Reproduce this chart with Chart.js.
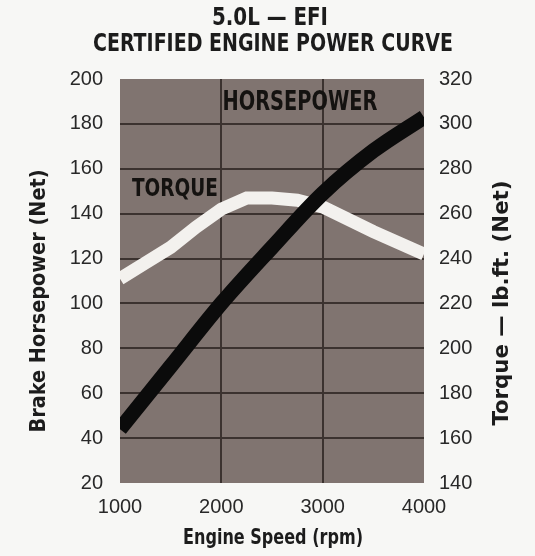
<!DOCTYPE html>
<html>
<head>
<meta charset="utf-8">
<script src="https://cdn.jsdelivr.net/npm/chart.js@4.4.1/dist/chart.umd.min.js"></script>
<style>
  html, body { margin: 0; padding: 0; background: #f7f7f5; }
  #wrap { width: 535px; height: 556px; }
</style>
</head>
<body>
<div id="wrap"><canvas id="powerChart" width="535" height="556"></canvas></div>
<script>
// engine speed (rpm) and readings taken off the printed curve
const hpRpm = [1000, 1500, 2000, 2500, 3000, 3500, 4000];
const hpNet = [44, 72, 100, 125, 149, 168, 183];

const tqRpm = [1000, 1250, 1500, 1750, 2000, 2250, 2500, 2750, 3000, 3500, 4000];
const tqNet = [231, 238, 245, 254, 262, 267, 267, 266, 263, 252, 242];

// tick labels
const rpmTicks = [1000, 2000, 3000, 4000];
const hpTicks = [20, 40, 60, 80, 100, 120, 140, 160, 180, 200];
const tqTicks = [140, 160, 180, 200, 220, 240, 260, 280, 300, 320];

const narrow = "'Liberation Sans Narrow', 'DejaVu Sans Condensed', 'Liberation Sans', sans-serif";
const tickFont = { family: "'Liberation Sans', Arial, sans-serif", size: 20 };
const tickColor = '#282828';
const gridColor = '#3b322f';
const plotBg = '#807470';

// draw text squeezed/stretched to a given width
function fitText(ctx, text, cx, cy, width, font, rot) {
    ctx.save();
    ctx.font = font;
    const w = ctx.measureText(text).width;
    ctx.translate(cx, cy);
    if (rot) ctx.rotate(rot);
    ctx.scale(width / w, 1);
    ctx.textAlign = 'center';
    ctx.textBaseline = 'middle';
    ctx.fillText(text, 0, 0);
    ctx.restore();
}

const paperPlugin = {
    id: 'paper',
    beforeDraw(chart) {
        const { ctx, chartArea: a } = chart;
        ctx.save();
        ctx.fillStyle = '#f7f7f5';
        ctx.fillRect(0, 0, chart.width, chart.height);
        ctx.fillStyle = plotBg;
        ctx.fillRect(a.left, a.top, a.right - a.left, a.bottom - a.top);
        ctx.restore();
    },
    afterDraw(chart) {
        const ctx = chart.ctx;
        ctx.fillStyle = '#1c1c1c';
        const bold = (s) => 'bold ' + s + 'px ' + narrow;
        fitText(ctx, '5.0L — EFI', 270, 19, 116, bold(24));
        fitText(ctx, 'CERTIFIED ENGINE POWER CURVE', 273, 44, 360, bold(25));
        ctx.fillStyle = '#141210';
        fitText(ctx, 'HORSEPOWER', 300, 103, 155, bold(26));
        fitText(ctx, 'TORQUE', 175, 189, 86, bold(25));
        ctx.fillStyle = '#1c1c1c';
        fitText(ctx, 'Engine Speed (rpm)', 273, 539, 180, bold(21));
        fitText(ctx, 'Brake Horsepower (Net)', 40, 301, 263, bold(21), -Math.PI / 2);
        fitText(ctx, 'Torque — lb.ft. (Net)', 503, 303, 245, bold(21), -Math.PI / 2);
    }
};

const ctx = document.getElementById('powerChart');

new Chart(ctx, {
    type: 'line',
    data: {
        datasets: [{
            label: 'Horsepower',
            data: hpRpm.map((r, i) => ({ x: r, y: hpNet[i] })),
            yAxisID: 'y',
            borderColor: '#0b0b0b',
            borderWidth: 15,
            pointRadius: 0,
            cubicInterpolationMode: 'monotone',
            clip: 0,
            order: 0
        }, {
            label: 'Torque',
            data: tqRpm.map((r, i) => ({ x: r, y: tqNet[i] })),
            yAxisID: 'y1',
            borderColor: '#f3f1ee',
            borderWidth: 13,
            pointRadius: 0,
            tension: 0,
            clip: 0,
            order: 1
        }]
    },
    options: {
        responsive: false,
        animation: false,
        layout: { padding: { top: 79, left: 0, right: 0, bottom: 0 } },
        plugins: {
            legend: { display: false },
            tooltip: { enabled: false },
            title: { display: false }
        },
        scales: {
            x: {
                type: 'linear',
                min: 1000,
                max: 4000,
                afterBuildTicks: (s) => { s.ticks = rpmTicks.map(v => ({ value: v })); },
                afterFit: (s) => { s.height = 73; },
                ticks: { font: tickFont, color: tickColor, padding: 12, maxRotation: 0, callback: (v) => String(v) },
                grid: {
                    color: (c) => (c.tick && (c.tick.value === 2000 || c.tick.value === 3000)) ? gridColor : 'rgba(0,0,0,0)',
                    lineWidth: 2,
                    drawTicks: false
                },
                border: { display: false }
            },
            y: {
                position: 'left',
                min: 20,
                max: 200,
                afterBuildTicks: (s) => { s.ticks = hpTicks.map(v => ({ value: v })); },
                afterFit: (s) => { s.width = 120; },
                ticks: { font: tickFont, color: tickColor, padding: 17, callback: (v) => String(v) },
                grid: {
                    color: (c) => (c.tick && c.tick.value > 20 && c.tick.value < 200) ? gridColor : 'rgba(0,0,0,0)',
                    lineWidth: 2,
                    drawTicks: false
                },
                border: { display: false }
            },
            y1: {
                position: 'right',
                min: 140,
                max: 320,
                afterBuildTicks: (s) => { s.ticks = tqTicks.map(v => ({ value: v })); },
                afterFit: (s) => { s.width = 111; },
                ticks: { font: tickFont, color: tickColor, padding: 15, callback: (v) => String(v) },
                grid: { display: false, drawTicks: false },
                border: { display: false }
            }
        }
    },
    plugins: [paperPlugin]
});
</script>
</body>
</html>
